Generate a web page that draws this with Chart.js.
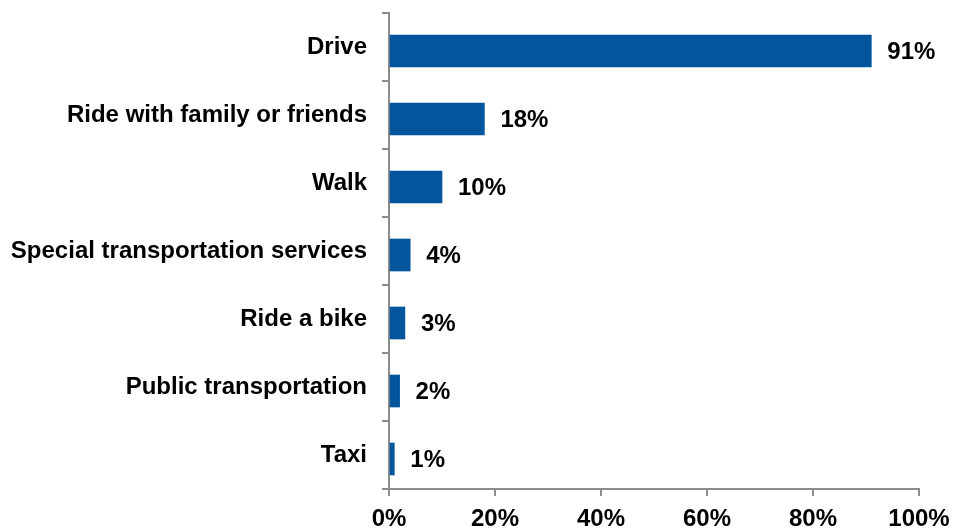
<!DOCTYPE html>
<html>
<head>
<meta charset="utf-8">
<script src="https://cdn.jsdelivr.net/npm/chart.js@4/dist/chart.umd.min.js"></script>
<style>
  html, body { margin: 0; padding: 0; background: #ffffff; }
  #wrap { width: 953px; height: 529px; position: relative; }
</style>
</head>
<body>
<div id="wrap"><canvas id="c" width="953" height="529"></canvas></div>
<script>
const categories = [
  "Drive",
  "Ride with family or friends",
  "Walk",
  "Special transportation services",
  "Ride a bike",
  "Public transportation",
  "Taxi"
];
const values = [91, 18, 10, 4, 3, 2, 1];
const xTicks = [0, 20, 40, 60, 80, 100];

const FONT = "'Liberation Sans', Arial, sans-serif";
const AXIS_COLOR = "#8c8c8c";
const BAR_COLOR = "#03569b";
const BAR_SHIFT = 4 / 68; // bars sit slightly below category centres

const valueLabels = {
  id: "valueLabels",
  afterDatasetsDraw(chart) {
    const ctx = chart.ctx;
    const meta = chart.getDatasetMeta(0);
    ctx.save();
    ctx.font = "bold 24px " + FONT;
    ctx.fillStyle = "#000000";
    ctx.textAlign = "left";
    ctx.textBaseline = "middle";
    meta.data.forEach((bar, i) => {
      ctx.fillText(values[i] + "%", bar.x + 16, bar.y + 1);
    });
    ctx.restore();
  }
};

new Chart(document.getElementById("c"), {
  type: "bar",
  data: {
    labels: categories,
    datasets: [{
      data: values.map((v, i) => ({ x: v, y: i })),
      yAxisID: "yb",
      backgroundColor: BAR_COLOR,
      borderWidth: 0,
      barThickness: 32
    }]
  },
  options: {
    indexAxis: "y",
    responsive: false,
    animation: false,
    events: [],
    layout: { padding: { top: 13, right: 34, left: 0, bottom: 0 } },
    plugins: {
      legend: { display: false },
      tooltip: { enabled: false }
    },
    scales: {
      x: {
        min: 0,
        max: 100,
        afterBuildTicks(scale) {
          scale.ticks = xTicks.map(v => ({ value: v }));
        },
        afterFit(scale) {
          scale.height = 40;
          scale.paddingLeft = 0;
          scale.paddingRight = 0;
        },
        border: { display: true, color: AXIS_COLOR, width: 2 },
        grid: {
          drawOnChartArea: false,
          drawTicks: true,
          tickLength: 7,
          color: AXIS_COLOR,
          tickColor: AXIS_COLOR,
          lineWidth: 2
        },
        ticks: {
          color: "#000000",
          font: { family: FONT, size: 24, weight: "bold" },
          padding: 9,
          maxRotation: 0,
          callback: v => v + "%"
        }
      },
      y: {
        type: "category",
        afterFit(scale) {
          scale.width = 389;
          scale.paddingTop = 0;
          scale.paddingBottom = 0;
        },
        border: { display: true, color: AXIS_COLOR, width: 2 },
        grid: {
          offset: true,
          drawOnChartArea: false,
          drawTicks: true,
          tickLength: 7,
          color: AXIS_COLOR,
          tickColor: AXIS_COLOR,
          lineWidth: 2
        },
        ticks: {
          color: "#000000",
          font: { family: FONT, size: 24, weight: "bold" },
          padding: 15,
          autoSkip: false
        }
      },
      yb: {
        type: "linear",
        axis: "y",
        display: false,
        offset: false,
        grace: 0,
        reverse: true,
        min: -0.5 - BAR_SHIFT,
        max: categories.length - 0.5 - BAR_SHIFT,
        afterBuildTicks(scale) {
          scale.ticks = categories.map((c, i) => ({ value: i }));
        }
      }
    }
  },
  plugins: [valueLabels]
});
</script>
</body>
</html>
